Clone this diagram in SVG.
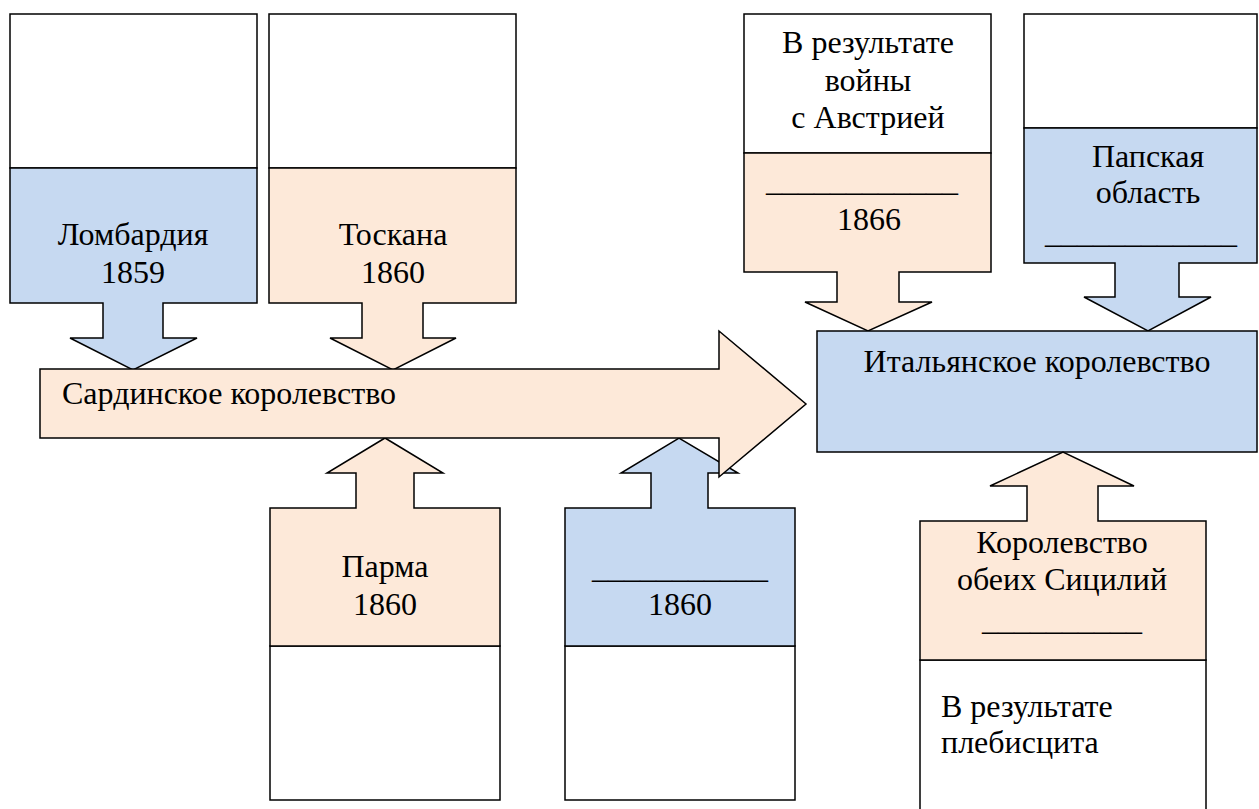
<svg xmlns="http://www.w3.org/2000/svg" width="1259" height="809" viewBox="0 0 1259 809">
<style>
.blue{fill:#C6D9F1;stroke:#000;stroke-width:1.5;stroke-linejoin:miter}
.peach{fill:#FDE9D9;stroke:#000;stroke-width:1.5;stroke-linejoin:miter}
.white{fill:#FFFFFF;stroke:#000;stroke-width:1.5}
.c{text-anchor:middle}
</style>
<rect x="0" y="0" width="1259" height="809" fill="#FFFFFF"/>
<g font-family="Liberation Serif, DejaVu Serif, Noto Serif, Times New Roman, serif" font-size="32" fill="#000">
<g id="lombardia">
<rect class="white" x="10" y="14" width="247" height="154"/>
<path class="blue" d="M10,168 H257 V303 H163 V338 H197 L133,370 L70,338 H103 V303 H10 Z"/>
<text class="c" x="133" y="245">Ломбардия</text>
<text class="c" x="133" y="283">1859</text>
</g>
<g id="toscana">
<rect class="white" x="269" y="14" width="247" height="154"/>
<path class="peach" d="M269,168 H516 V303 H423 V338 H456 L393,370 L330,338 H362 V303 H269 Z"/>
<text class="c" x="393" y="245">Тоскана</text>
<text class="c" x="393" y="283">1860</text>
</g>
<g id="parma">
<rect class="white" x="270" y="646" width="230" height="154"/>
<path class="peach" d="M270,646 V508 H356 V473 H327 L385,438 L443,473 H414 V508 H500 V646 Z"/>
<text class="c" x="385" y="577">Парма</text>
<text class="c" x="385" y="615">1860</text>
</g>
<g id="blank1860">
<rect class="white" x="565" y="646" width="230" height="154"/>
<path class="blue" d="M565,646 V508 H651 V473 H621 L679,438 L738,473 H708 V508 H795 V646 Z"/>
<text class="c" x="680" y="578">___________</text>
<text class="c" x="680" y="615">1860</text>
</g>
<g id="connectors">
<g id="sardinia">
<path class="peach" d="M40,369 H719 V331 L806,404 L719,477 V438 H40 Z"/>
<text x="62" y="404">Сардинское королевство</text>
</g>
</g>
<g id="austria">
<rect class="white" x="744" y="14" width="247" height="139"/>
<path class="peach" d="M744,153 H991 V272 H899 V302 H932 L868,331 L805,302 H837 V272 H744 Z"/>
<text class="c" x="868" y="53">В результате</text>
<text class="c" x="868" y="91">войны</text>
<text class="c" x="868" y="128">с Австрией</text>
<text class="c" x="862" y="191">____________</text>
<text class="c" x="869" y="230">1866</text>
</g>
<g id="papal">
<rect class="white" x="1024" y="14" width="233" height="114"/>
<path class="blue" d="M1024,128 H1257 V263 H1179 V297 H1211 L1148,331 L1084,297 H1115 V263 H1024 Z"/>
<text class="c" x="1148" y="167">Папская</text>
<text class="c" x="1148" y="203">область</text>
<text class="c" x="1141" y="243">____________</text>
</g>
<g id="italy">
<rect class="blue" x="817" y="331" width="440" height="121"/>
<text class="c" x="1037" y="372">Итальянское королевство</text>
</g>
<g id="sicily">
<rect class="white" x="920" y="660" width="286" height="160"/>
<path class="peach" d="M920,660 V521 H1027 V486 H990 L1063,452 L1134,486 H1098 V521 H1206 V660 Z"/>
<text class="c" x="1062" y="553">Королевство</text>
<text class="c" x="1062" y="590">обеих Сицилий</text>
<text class="c" x="1062" y="630">__________</text>
<text x="941" y="717">В результате</text>
<text x="941" y="753">плебисцита</text>
</g>
</g>
</svg>
